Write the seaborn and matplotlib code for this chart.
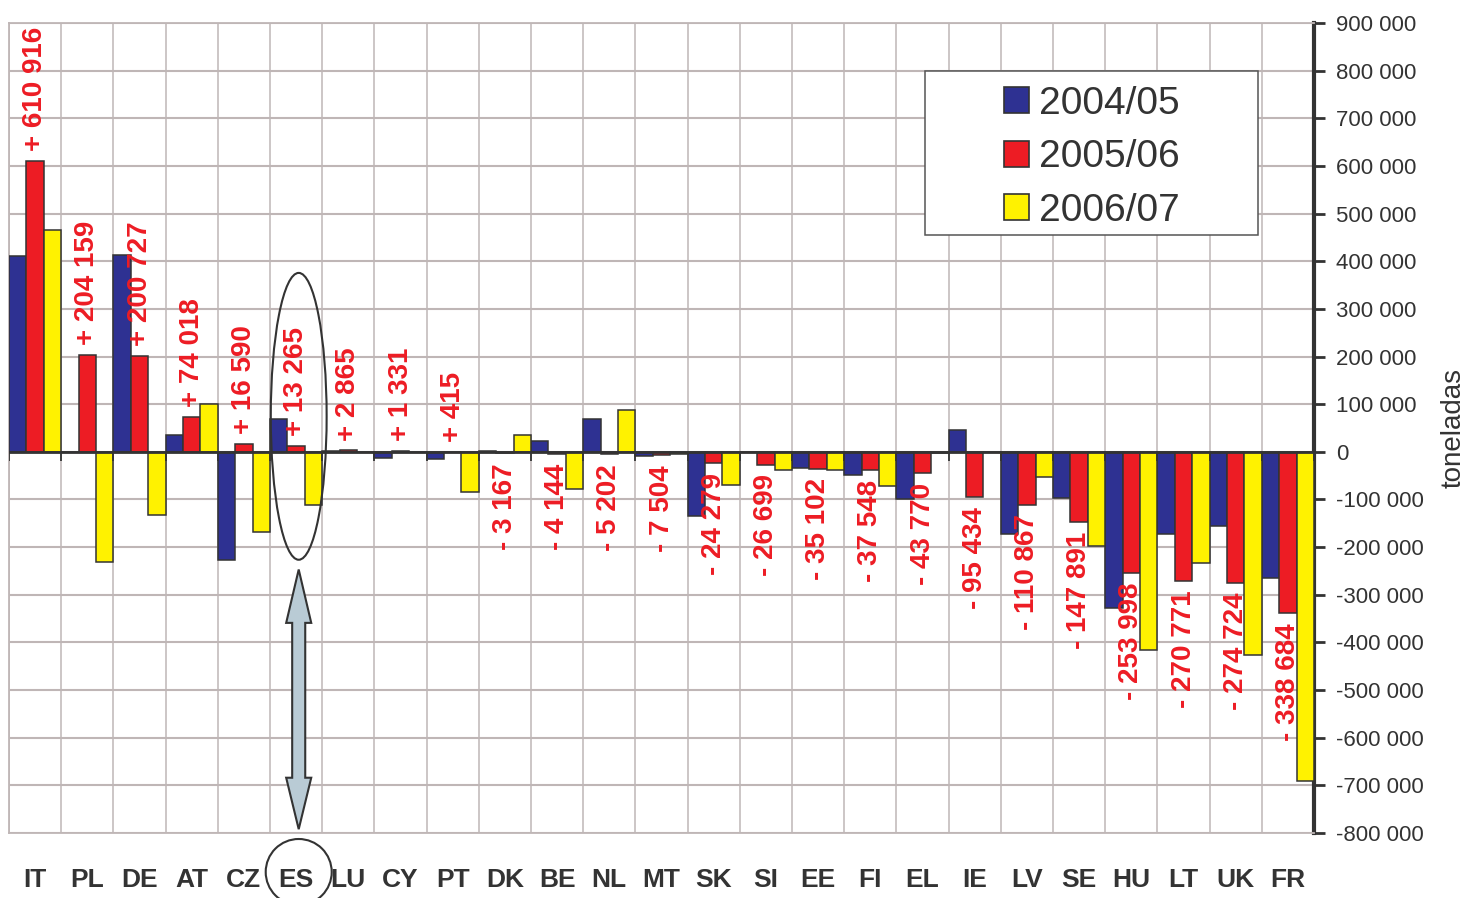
import numpy as np
import pandas as pd
import matplotlib
matplotlib.use("Agg")
import matplotlib.pyplot as plt
import matplotlib.patches as mpatches
import matplotlib.transforms as mtransforms
import matplotlib.ticker as mtick
import seaborn as sns

# data
countries = ["IT", "PL", "DE", "AT", "CZ", "ES", "LU", "CY", "PT", "DK", "BE", "NL", "MT",
             "SK", "SI", "EE", "FI", "EL", "IE", "LV", "SE", "HU", "LT", "UK", "FR"]
periods = ["2004/05", "2005/06", "2006/07"]
colors = ["#2E3192", "#ED1C24", "#FFF200"]

v_2004_05 = [410000, 0, 413000, 36000, -227000, 69000, 2000, -12000, -15000, 1500, 23000,
             69000, -8000, -134000, 0, -34000, -48000, -98000, 46000, -173000, -96000,
             -327000, -172000, -155000, -264000]
v_2005_06 = [610916, 204159, 200727, 74018, 16590, 13265, 2865, 1331, 415, -3167, -4144,
             -5202, -7504, -24279, -26699, -35102, -37548, -43770, -95434, -110867, -147891,
             -253998, -270771, -274724, -338684]
v_2006_07 = [466000, -231000, -132000, 100000, -168000, -112000, 0, 0, -84000, 36000, -78000,
             88000, -4000, -69000, -38000, -39000, -71000, -2000, 0, -52000, -197000,
             -416000, -233000, -426000, -690000]

y_ticks = list(range(-800000, 900001, 100000))

grid_c = "#BFB6B6"
dark = "#333333"

df = pd.DataFrame({
    "country": countries * 3,
    "period": [p for p in periods for _ in countries],
    "value": v_2004_05 + v_2005_06 + v_2006_07,
})

sns.set_theme(style="white")
plt.rcParams["font.family"] = ["Liberation Sans", "DejaVu Sans"]

fig = plt.figure(figsize=(14.66, 8.98), dpi=100)
ax = fig.add_axes([9 / 1466, 1 - 833 / 898, 1305 / 1466, 810 / 898])

sns.barplot(data=df, x="country", y="value", hue="period", order=countries,
            hue_order=periods, palette=colors, width=1, saturation=1, errorbar=None,
            edgecolor=dark, linewidth=1.1, legend=False, ax=ax, zorder=3)

n = len(countries)
ax.set_xlim(-0.5, n - 0.5)
ax.set_ylim(y_ticks[0], y_ticks[-1])

# grid
ax.set_xticks(np.arange(-0.5, n, 1), minor=True)
ax.grid(which="minor", axis="x", color=grid_c, lw=1.1, zorder=0)
ax.set_yticks(y_ticks)
ax.grid(which="major", axis="y", color=grid_c, lw=1.5, zorder=0)
ax.grid(which="major", axis="x", visible=False)
ax.set_axisbelow(True)

# zero axis with small category ticks
ax.axhline(0, color=dark, lw=2, zorder=4)
ax.vlines(np.arange(-0.5, n, 1), -20000, 0, color=dark, lw=1.3, zorder=4)

# y axis on the right
ax.yaxis.tick_right()
ax.yaxis.set_label_position("right")
ax.yaxis.set_major_formatter(mtick.FuncFormatter(lambda v, _: f"{int(v):,}".replace(",", " ")))
ax.tick_params(axis="y", which="major", right=True, left=False, direction="out", length=8,
               width=2, color=dark, labelsize=16, pad=8, labelcolor=dark)
ax.set_ylabel("toneladas", fontsize=20, color=dark, labelpad=12)

ax.set_xticks(range(n))
ax.set_xticklabels(countries, fontsize=19, fontweight="bold", color=dark)
ax.tick_params(axis="x", which="both", length=0, pad=25)
ax.set_xlabel("")

for side in ["left", "top", "bottom"]:
    ax.spines[side].set_color(grid_c)
    ax.spines[side].set_linewidth(1.3)
ax.spines["right"].set_color(dark)
ax.spines["right"].set_linewidth(3)

# red value labels
for i, v in enumerate(v_2005_06):
    sign = "+" if v > 0 else "-"
    txt = f"{sign} " + f"{abs(v):,}".replace(",", " ")
    ax.annotate(txt, xy=(i, v), xytext=(0, 7 if v > 0 else -7), textcoords="offset points",
                ha="center", va="bottom" if v > 0 else "top", rotation=90,
                fontsize=20, fontweight="bold", color="#ED1C24", zorder=5)

# legend box
ax.add_patch(mpatches.Rectangle((0.702, 0.738), 0.255, 0.203, transform=ax.transAxes,
                                facecolor="white", edgecolor="#555555", lw=1.1, zorder=6))
handles = [mpatches.Patch(facecolor=c, edgecolor=dark, lw=1.2, label=p)
           for c, p in zip(colors, periods)]
leg = ax.legend(handles=handles, loc="center", bbox_to_anchor=(0.8295, 0.834),
                frameon=False, fontsize=28, labelspacing=0.45, handlelength=0.65,
                handleheight=0.65, handletextpad=0.25, borderpad=0)
leg.set_zorder(7)
for t in leg.get_texts():
    t.set_color(dark)

# highlight of ES
es = countries.index("ES") + 0.05
ax.add_patch(mpatches.Ellipse((es, 74500), 1.07, 602000, fill=False, edgecolor=dark,
                              lw=1.5, zorder=6))
top, hb_top, hb_bot, bot = -247000, -359000, -684000, -792000
sw, hw = 0.125, 0.24
arrow = mpatches.Polygon([(es, top), (es + hw, hb_top), (es + sw, hb_top), (es + sw, hb_bot),
                          (es + hw, hb_bot), (es, bot), (es - hw, hb_bot), (es - sw, hb_bot),
                          (es - sw, hb_top), (es - hw, hb_top)], closed=True,
                         facecolor="#B9CBD5", edgecolor=dark, lw=1.5, zorder=6)
ax.add_patch(arrow)
blend = mtransforms.blended_transform_factory(ax.transData, fig.transFigure)
fig.add_artist(mpatches.Ellipse((es, 1 - 872 / 898), 66 / 52.2, 66 / 898, transform=blend,
                                fill=False, edgecolor=dark, lw=1.5, clip_on=False))

fig.savefig("out.png", dpi=100, facecolor="white")
